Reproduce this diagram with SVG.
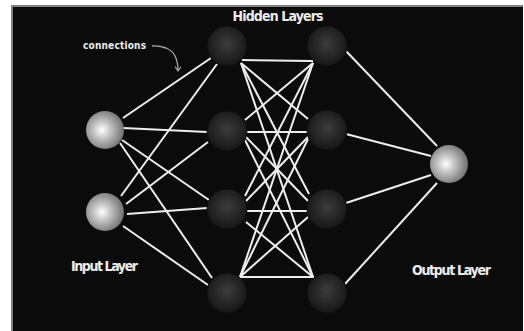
<svg xmlns="http://www.w3.org/2000/svg" width="524" height="331" viewBox="0 0 524 331">
<defs>
<radialGradient id="light" cx="0.42" cy="0.5" r="0.6" fx="0.42" fy="0.5">
<stop offset="0" stop-color="#ffffff"/>
<stop offset="0.35" stop-color="#c8c8c8"/>
<stop offset="1" stop-color="#6a6a6a"/>
</radialGradient>
<radialGradient id="dark" cx="0.5" cy="0.45" r="0.55">
<stop offset="0" stop-color="#3c3c3c"/>
<stop offset="1" stop-color="#161616"/>
</radialGradient>
<marker id="arr" viewBox="0 0 8 8" refX="7" refY="4" markerWidth="6" markerHeight="6" markerUnits="userSpaceOnUse" orient="auto">
<path d="M1,0 L7,4 L1,8" fill="none" stroke="#aaa" stroke-width="1.5"/>
</marker>
</defs>
<style>
.c line{stroke:#eeeeee;stroke-width:2;fill:none}
.in, .out{fill:url(#light)}
.hid{fill:url(#dark);stroke:#0e0e0e;stroke-width:1}
.lbl{font-family:"DejaVu Sans Condensed","Liberation Sans",sans-serif;font-weight:bold;fill:#ececec}
</style>
<rect x="0" y="0" width="524" height="331" fill="#ffffff"/>
<rect x="11" y="5" width="512" height="326" fill="#808080"/>
<rect x="13" y="7" width="510" height="324" fill="#0b0b0b"/>
<g id="connectors" class="c">
<line x1="123" y1="118" x2="211" y2="58"/>
<line x1="123" y1="128" x2="207" y2="132"/>
<line x1="122" y1="140" x2="209" y2="200"/>
<line x1="120" y1="143" x2="212" y2="278"/>
<line x1="121" y1="196" x2="217" y2="64"/>
<line x1="126" y1="204" x2="208" y2="142"/>
<line x1="127" y1="214" x2="207" y2="208"/>
<line x1="123" y1="226" x2="208" y2="285"/>
<line x1="242" y1="60" x2="313" y2="61"/>
<line x1="241" y1="63" x2="308" y2="119"/>
<line x1="241" y1="63" x2="309" y2="194"/>
<line x1="241" y1="63" x2="313" y2="277"/>
<line x1="313" y1="63" x2="245" y2="120"/>
<line x1="313" y1="63" x2="245" y2="196"/>
<line x1="313" y1="63" x2="240" y2="277"/>
<line x1="247" y1="132" x2="307" y2="132"/>
<line x1="246" y1="137" x2="308" y2="201"/>
<line x1="245" y1="140" x2="313" y2="277"/>
<line x1="308" y1="137" x2="246" y2="201"/>
<line x1="308" y1="139" x2="240" y2="277"/>
<line x1="247" y1="211" x2="307" y2="211"/>
<line x1="246" y1="222" x2="313" y2="277"/>
<line x1="308" y1="217" x2="240" y2="277"/>
<line x1="240" y1="277" x2="314" y2="277"/>
<line x1="345" y1="50" x2="437" y2="146"/>
<line x1="346" y1="134" x2="431" y2="156"/>
<line x1="346" y1="203" x2="431" y2="175"/>
<line x1="345" y1="284" x2="437" y2="183"/>
</g>
<g id="input1"><circle class="in" cx="105" cy="130" r="19"/></g>
<g id="input2"><circle class="in" cx="105" cy="212" r="19"/></g>
<g id="hidden1a"><circle class="hid" cx="227" cy="46" r="20"/></g>
<g id="hidden1b"><circle class="hid" cx="227" cy="131" r="20"/></g>
<g id="hidden1c"><circle class="hid" cx="227" cy="209" r="20"/></g>
<g id="hidden1d"><circle class="hid" cx="227" cy="293" r="20"/></g>
<g id="hidden2a"><circle class="hid" cx="327" cy="46" r="20"/></g>
<g id="hidden2b"><circle class="hid" cx="327" cy="130" r="20"/></g>
<g id="hidden2c"><circle class="hid" cx="327" cy="209" r="20"/></g>
<g id="hidden2d"><circle class="hid" cx="327" cy="293" r="20"/></g>
<g id="output"><circle class="out" cx="449" cy="164" r="19"/></g>
<g id="labels">
<text class="lbl" x="278" y="21" font-size="14" text-anchor="middle" textLength="91">Hidden Layers</text>
<text class="lbl" x="83" y="49" font-size="10" textLength="63">connections</text>
<path d="M152,46 C158,45 161,47 166,48 C174,51 178,60 178,71" fill="none" stroke="#aaa" stroke-width="1.3" marker-end="url(#arr)"/>
<text class="lbl" x="71" y="271" font-size="14" textLength="67">Input Layer</text>
<text class="lbl" x="412" y="275" font-size="14" textLength="79">Output Layer</text>
</g>
</svg>
